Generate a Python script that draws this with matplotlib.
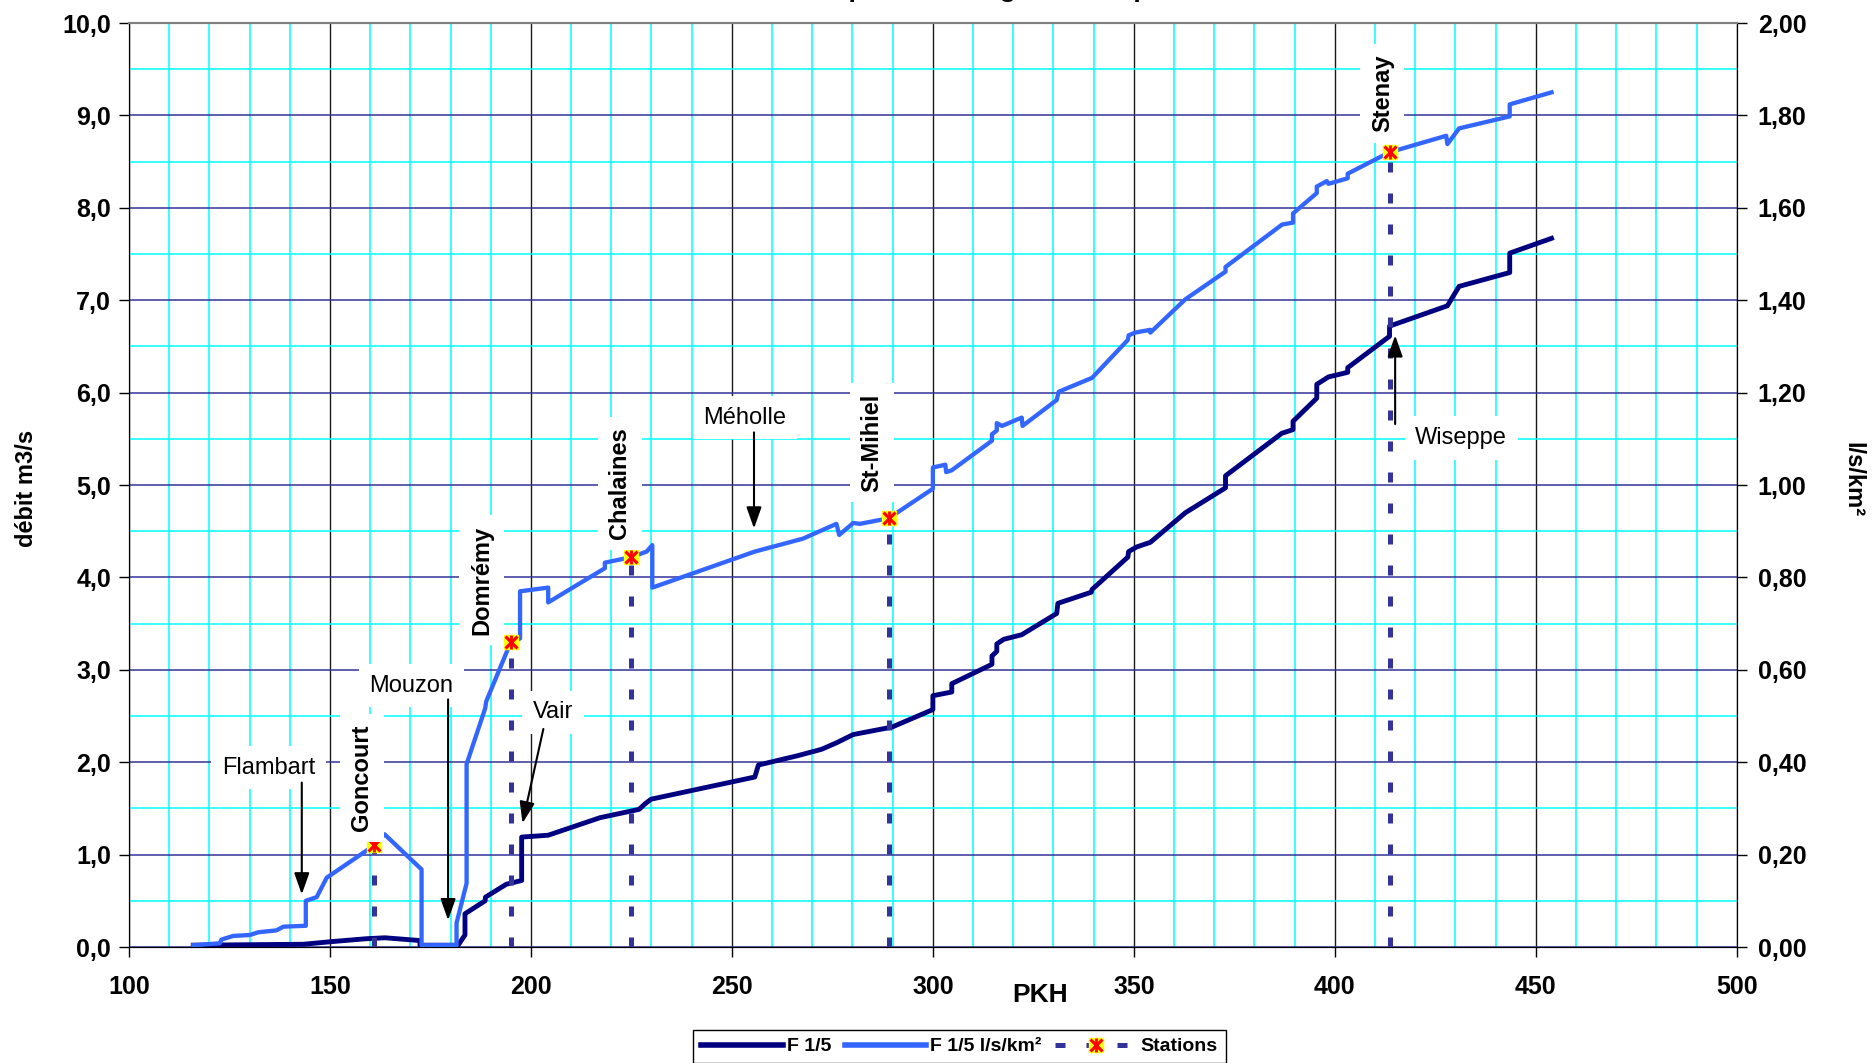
import matplotlib
matplotlib.use("Agg")
import matplotlib.pyplot as plt
from matplotlib.lines import Line2D
from matplotlib.legend_handler import HandlerTuple
from matplotlib.ticker import MultipleLocator, FuncFormatter

plt.rcParams["font.family"] = ["Liberation Sans", "DejaVu Sans"]
plt.rcParams["font.weight"] = "bold"

# F 1/5 discharge (m3/s) along the river, by PKH
pkh_q = [116.0, 143.4, 150.8, 159.1, 163.7, 172.4, 172.4, 181.9, 183.6, 183.6,
         188.6, 188.7, 193.9, 197.7, 197.7, 204.3, 217.2, 226.9, 228.4, 229.9,
         255.7, 256.6, 266.3, 272.3, 276.0, 280.2, 289.8, 300.0, 300.0, 304.7,
         304.7, 314.7, 314.7, 315.9, 315.9, 317.6, 322.1, 330.8, 331.1, 339.4,
         339.6, 348.5, 348.7, 350.7, 354.1, 362.8, 372.8, 372.8, 386.8, 389.6,
         389.6, 395.5, 395.5, 398.4, 403.2, 403.2, 413.6, 413.6, 428.0, 430.9,
         443.5, 443.5, 453.9]
q_m3s = [0.02, 0.03, 0.06, 0.09, 0.10, 0.07, 0.02, 0.02, 0.13, 0.36,
         0.50, 0.54, 0.68, 0.72, 1.19, 1.21, 1.40, 1.49, 1.55, 1.60,
         1.84, 1.97, 2.07, 2.14, 2.21, 2.30, 2.38, 2.57, 2.72, 2.76,
         2.85, 3.06, 3.15, 3.20, 3.28, 3.33, 3.38, 3.61, 3.72, 3.84,
         3.87, 4.22, 4.28, 4.33, 4.38, 4.70, 4.97, 5.10, 5.56, 5.60,
         5.69, 5.94, 6.09, 6.17, 6.22, 6.27, 6.61, 6.72, 6.94, 7.15,
         7.30, 7.51, 7.67]

# F 1/5 specific discharge (l/s/km2)
pkh_spec = [116.0, 122.6, 123.0, 125.9, 130.1, 132.2, 136.7, 138.4, 144.0, 144.0,
            146.7, 149.2, 161.0, 163.6, 172.8, 172.8, 181.5, 181.5, 184.0, 184.0,
            188.6, 188.9, 194.8, 197.3, 197.3, 204.3, 204.3, 218.4, 218.4, 225.0,
            228.8, 230.2, 230.2, 255.7, 267.7, 276.0, 276.7, 280.2, 281.8, 289.0,
            300.0, 300.0, 303.1, 303.3, 304.7, 314.7, 314.7, 315.9, 315.9, 317.2,
            322.1, 322.3, 330.8, 331.3, 339.6, 348.5, 348.7, 350.3, 354.1, 354.1,
            362.8, 372.8, 372.8, 386.9, 389.6, 389.6, 395.5, 395.5, 398.0, 398.4,
            403.2, 403.2, 413.5, 427.7, 428.0, 430.9, 443.5, 443.5, 453.9]
q_spec = [0.004, 0.008, 0.016, 0.024, 0.026, 0.032, 0.036, 0.044, 0.046, 0.100,
          0.108, 0.150, 0.220, 0.244, 0.168, 0.004, 0.004, 0.052, 0.138, 0.396,
          0.516, 0.532, 0.656, 0.668, 0.770, 0.778, 0.746, 0.820, 0.832, 0.844,
          0.856, 0.870, 0.778, 0.856, 0.884, 0.916, 0.892, 0.918, 0.916, 0.928,
          0.992, 1.038, 1.044, 1.028, 1.032, 1.096, 1.110, 1.118, 1.134, 1.128,
          1.146, 1.128, 1.184, 1.202, 1.232, 1.314, 1.324, 1.330, 1.336, 1.330,
          1.402, 1.462, 1.472, 1.564, 1.568, 1.588, 1.632, 1.646, 1.658, 1.652,
          1.664, 1.674, 1.720, 1.756, 1.738, 1.772, 1.798, 1.824, 1.850]

# gauging stations (PKH, specific discharge l/s/km2)
station_names = ["Goncourt", "Domrémy", "Chalaines", "St-Mihiel", "Stenay"]
station_pkh = [161.0, 195.0, 225.0, 289.0, 413.6]
station_spec = [0.220, 0.660, 0.844, 0.928, 1.720]

# label placement (PKH, m3/s scale) for station names
station_label_pos = [(157.9, 1.83), (187.7, 3.97), (222.1, 5.02), (284.9, 5.46), (411.8, 9.24)]

# tributary notes: text, text position, arrow tail, arrow tip (PKH, m3/s scale)
tributaries = [
    ("Flambart", (134.7, 1.94), (143.0, 1.78), (143.0, 0.57)),
    ("Mouzon", (170.3, 2.83), (179.4, 2.68), (179.4, 0.29)),
    ("Vair", (205.5, 2.54), (203.1, 2.36), (197.9, 1.34)),
    ("Méholle", (253.2, 5.73), (255.5, 5.57), (255.5, 4.53)),
    ("Wiseppe", (431.4, 5.51), (415.0, 5.66), (415.0, 6.62)),
]

DARK = "#000080"
LIGHT = "#3366FF"
STATION = "#333399"

fig = plt.figure(figsize=(18.74, 10.63), dpi=100)
ax = fig.add_axes([0.0688, 0.1091, 0.858, 0.8692])
ax2 = ax.twinx()

ax.set_xlim(100, 500)
ax.set_ylim(0, 10)
ax2.set_ylim(0, 2)
ax.xaxis.set_major_locator(MultipleLocator(50))
ax.xaxis.set_minor_locator(MultipleLocator(10))
ax.yaxis.set_major_locator(MultipleLocator(1))
ax.yaxis.set_minor_locator(MultipleLocator(0.5))
ax2.yaxis.set_major_locator(MultipleLocator(0.2))
ax.yaxis.set_major_formatter(FuncFormatter(lambda v, p: f"{v:.1f}".replace(".", ",")))
ax2.yaxis.set_major_formatter(FuncFormatter(lambda v, p: f"{v:.2f}".replace(".", ",")))

ax.set_axisbelow(True)
ax.grid(which="minor", color="#00FFFF", lw=1.1)
ax.grid(which="major", axis="y", color=STATION, lw=1.1)
ax.grid(which="major", axis="x", color="#1a1a1a", lw=1.0)

ax.tick_params(which="major", direction="out", length=7, width=1, labelsize=18)
ax.tick_params(axis="x", pad=13)
ax.tick_params(axis="y", pad=6)
ax.tick_params(which="minor", length=0)
ax2.tick_params(which="major", direction="out", length=7, width=1, labelsize=18, pad=8)
for a in (ax, ax2):
    a.spines["top"].set_color("#808080")
    a.spines["top"].set_linewidth(1.5)

ax.plot(pkh_q, q_m3s, color=DARK, lw=3.5, zorder=3)
ax2.plot(pkh_spec, q_spec, color=LIGHT, lw=3.1, zorder=3)

for x, y in zip(station_pkh, station_spec):
    ax2.plot([x, x], [0, y], color=STATION, lw=3.6, ls=(0, (2.0, 4.2)),
             dash_capstyle="butt", zorder=4)
ax2.plot(station_pkh, station_spec, ls="none", marker="s", ms=10, mfc="#FFFF00",
         mec="#FFFF00", zorder=5)
ax2.plot(station_pkh, station_spec, ls="none", marker="x", ms=9, mec="red",
         mew=2.2, zorder=6)
ax2.plot(station_pkh, station_spec, ls="none", marker="|", ms=10, mec="red",
         mew=2.0, zorder=6)

box = dict(boxstyle="square,pad=0.45", fc="white", ec="none")
for name, (lx, ly) in zip(station_names, station_label_pos):
    ax2.text(lx, ly, name, transform=ax.transData, rotation=90, ha="center", va="center",
             fontsize=17, fontweight="bold", bbox=box, zorder=7)

for name, txt, tail, tip in tributaries:
    ax2.text(txt[0], txt[1], name, transform=ax.transData, ha="center", va="center",
             fontsize=17, fontweight="normal", bbox=box, zorder=7)
    ax2.annotate("", xy=tip, xytext=tail, xycoords=ax.transData, textcoords=ax.transData,
                 arrowprops=dict(arrowstyle="-|>,head_length=0.65,head_width=0.23",
                                 mutation_scale=20, color="black", lw=1.5,
                                 shrinkA=0, shrinkB=0), zorder=8)

fig.text(27 / 1874, 1 - 488 / 1063, "débit m3/s", rotation=90, ha="center", va="center",
         fontsize=17)
fig.text(1853 / 1874, 1 - 480 / 1063, "l/s/km²", rotation=270, ha="center", va="center",
         fontsize=17)
fig.text(1040 / 1874, 1 - 995 / 1063, "PKH", ha="center", va="center", fontsize=19)
fig.text(743 / 1874, 1.0024, "Meuse : profil en long du débit par station", ha="left",
         va="baseline", fontsize=19)

h_dark = Line2D([], [], color=DARK, lw=4)
h_light = Line2D([], [], color=LIGHT, lw=4)
h_st_line = Line2D([], [], color=STATION, lw=3.6, ls=(0, (2.0, 4.2)), dash_capstyle="butt")
h_st_sq = Line2D([], [], ls="none", marker="s", ms=10, mfc="#FFFF00", mec="#FFFF00")
h_st_x = Line2D([], [], ls="none", marker="x", ms=9, mec="red", mew=2.2)
h_st_bar = Line2D([], [], ls="none", marker="|", ms=10, mec="red", mew=2.0)
leg = fig.legend([h_dark, h_light, (h_st_line, h_st_sq, h_st_x, h_st_bar)],
                 ["F 1/5", "F 1/5 l/s/km²", "Stations"],
                 handler_map={tuple: HandlerTuple(ndivide=1)},
                 loc="upper center", bbox_to_anchor=(0.512, 1 - 1030 / 1063), ncol=3,
                 fontsize=14, handlelength=4.2, handletextpad=0.2, columnspacing=0.7,
                 borderpad=0.4, borderaxespad=0, fancybox=False, framealpha=1,
                 edgecolor="black")
leg.get_frame().set_linewidth(1.0)

fig.savefig("out.png", dpi=100)
